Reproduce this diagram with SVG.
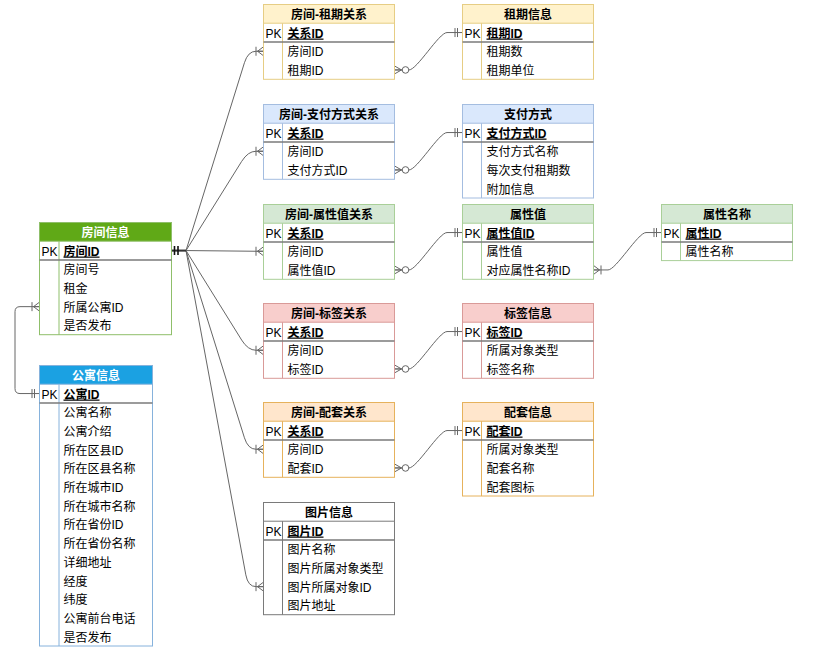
<svg xmlns="http://www.w3.org/2000/svg" width="814" height="651" viewBox="0 0 814 651">
<style>
.t{font-family:"Liberation Sans","Noto Sans CJK SC",sans-serif;font-size:12px;fill:#000;transform:translateY(1px)}
.hd{font-weight:bold;text-anchor:middle}
.wt{fill:#fff}
.pk{font-weight:bold;text-decoration:underline}
.box{fill:#fff}
.sep{stroke:#7a7a7a;stroke-width:1.5}
.ln{fill:none;stroke:#666;stroke-width:1}
.mk{fill:none;stroke:#666;stroke-width:1}
.gd rect,.gd .div{stroke:#8fbf6a}.gd .head{fill:#60a917}
.bd rect,.bd .div{stroke:#86b2dc}.bd .head{fill:#1ba1e2}
.ye rect,.ye .div{stroke:#e6cd84}.ye .head{fill:#fff2cc}
.bl rect,.bl .div{stroke:#a4bde0}.bl .head{fill:#dae8fc}
.gr rect,.gr .div{stroke:#a9cf98}.gr .head{fill:#d5e8d4}
.rd rect,.rd .div{stroke:#d99a98}.rd .head{fill:#f8cecc}
.or rect,.or .div{stroke:#e6b25c}.or .head{fill:#ffe6cc}
.gy rect,.gy .div{stroke:#7a7a7a}.gy .head{fill:#fff}
</style>
<defs>
<g id="m-om" class="mk"><path d="M-7.5,-4.5V4.5M-6,0L0,-4.5M-6,0L0,4.5M-6,0H0"/></g>
<g id="m-one" class="mk"><path d="M-7.5,-4.5V4.5M-5,-4.5V4.5"/></g>
<g id="m-zm" class="mk"><path d="M0,-4L7,0M0,4L7,0M0,0H7"/><circle cx="11" cy="0" r="3.3" fill="#fff"/></g>
<g id="m-omr" class="mk"><path d="M7.5,-4.5V4.5M6,0L0,-4.5M6,0L0,4.5M6,0H0"/></g>
</defs>

<g id="connectors">
<path class="ln" d="M171.5,250.55H186L244.44,62.71Q248,51.25 256,51.25H263.5"/>
<path class="ln" d="M171.5,250.55H186L241.64,161.43Q248,151.25 256,151.25H263.5"/>
<path class="ln" d="M171.5,250.55H186L256,251.25H263.5"/>
<path class="ln" d="M171.5,250.55H186L241.66,340.06Q248,350.25 256,350.25H263.5"/>
<path class="ln" d="M171.5,250.55H186L244.43,437.79Q248,449.25 256,449.25H263.5"/>
<path class="ln" d="M171.5,250.55H186L245.82,574.85Q248,586.65 256,586.65H263.5"/>
<path d="M171.5,250.55H186" stroke="#333" stroke-width="2" fill="none"/>
<path d="M174.5,246V255M178,246V255" stroke="#111" stroke-width="1.6" fill="none"/>
<use href="#m-om" x="263.5" y="51.25"/>
<use href="#m-om" x="263.5" y="151.25"/>
<use href="#m-om" x="263.5" y="251.25"/>
<use href="#m-om" x="263.5" y="350.25"/>
<use href="#m-om" x="263.5" y="449.25"/>
<use href="#m-om" x="263.5" y="586.65"/>

<path class="ln" d="M39.5,306.65H20Q15,306.65 15,311.65V388.55Q15,393.55 20,393.55H39.5"/>
<use href="#m-om" x="39.5" y="306.65"/>
<use href="#m-one" x="39.5" y="393.55"/>

<path class="ln" d="M394.5,69.95H409C417,69.95 439,32.55 447,32.55H462.5"/>
<path class="ln" d="M394.5,169.95H409C417,169.95 439,132.55 447,132.55H462.5"/>
<path class="ln" d="M394.5,269.95H409C417,269.95 439,232.55 447,232.55H462.5"/>
<path class="ln" d="M394.5,368.95H409C417,368.95 439,331.55 447,331.55H462.5"/>
<path class="ln" d="M394.5,467.95H409C417,467.95 439,430.55 447,430.55H462.5"/>
<path class="ln" d="M593.5,269.95H608C616,269.95 638,232.55 646,232.55H661.5"/>
<use href="#m-zm" x="394.5" y="69.95"/>
<use href="#m-zm" x="394.5" y="169.95"/>
<use href="#m-zm" x="394.5" y="269.95"/>
<use href="#m-zm" x="394.5" y="368.95"/>
<use href="#m-zm" x="394.5" y="467.95"/>
<use href="#m-omr" x="593.5" y="269.95"/>
<use href="#m-one" x="462.5" y="32.55"/>
<use href="#m-one" x="462.5" y="132.55"/>
<use href="#m-one" x="462.5" y="232.55"/>
<use href="#m-one" x="462.5" y="331.55"/>
<use href="#m-one" x="462.5" y="430.55"/>
<use href="#m-one" x="661.5" y="232.55"/>
</g>

<g id="fangjian" class="gd" transform="translate(39.5,222.5)">
<rect class="box" width="132" height="112.2"/><rect class="head" width="132" height="18.7"/>
<line class="div" x1="19.5" y1="18.7" x2="19.5" y2="112.2"/><line class="sep" x1="0" y1="37.4" x2="132" y2="37.4"/>
<text class="t hd wt" x="66" y="13.35">房间信息</text>
<text class="t" x="2" y="32.05">PK</text><text class="t pk" x="24" y="32.05">房间ID</text>
<text class="t" x="24" y="50.75">房间号</text>
<text class="t" x="24" y="69.45">租金</text>
<text class="t" x="24" y="88.15">所属公寓ID</text>
<text class="t" x="24" y="106.85">是否发布</text>
</g>

<g id="gongyu" class="bd" transform="translate(39.5,365.5)">
<rect class="box" width="113" height="280.5"/><rect class="head" width="113" height="18.7"/>
<line class="div" x1="19.5" y1="18.7" x2="19.5" y2="280.5"/><line class="sep" x1="0" y1="37.4" x2="113" y2="37.4"/>
<text class="t hd wt" x="56.5" y="13.35">公寓信息</text>
<text class="t" x="2" y="32.05">PK</text><text class="t pk" x="24" y="32.05">公寓ID</text>
<text class="t" x="24" y="50.75">公寓名称</text>
<text class="t" x="24" y="69.45">公寓介绍</text>
<text class="t" x="24" y="88.15">所在区县ID</text>
<text class="t" x="24" y="106.85">所在区县名称</text>
<text class="t" x="24" y="125.55">所在城市ID</text>
<text class="t" x="24" y="144.25">所在城市名称</text>
<text class="t" x="24" y="162.95">所在省份ID</text>
<text class="t" x="24" y="181.65">所在省份名称</text>
<text class="t" x="24" y="200.35">详细地址</text>
<text class="t" x="24" y="219.05">经度</text>
<text class="t" x="24" y="237.75">纬度</text>
<text class="t" x="24" y="256.45">公寓前台电话</text>
<text class="t" x="24" y="275.15">是否发布</text>
</g>

<g id="fj-zuqi" class="ye" transform="translate(263.5,4.5)">
<rect class="box" width="131" height="74.8"/><rect class="head" width="131" height="18.7"/>
<line class="div" x1="19" y1="18.7" x2="19" y2="74.8"/><line class="sep" x1="0" y1="37.4" x2="131" y2="37.4"/>
<text class="t hd" x="65.5" y="13.35">房间-租期关系</text>
<text class="t" x="2" y="32.05">PK</text><text class="t pk" x="24" y="32.05">关系ID</text>
<text class="t" x="24" y="50.75">房间ID</text>
<text class="t" x="24" y="69.45">租期ID</text>
</g>

<g id="zuqi" class="ye" transform="translate(462.5,4.5)">
<rect class="box" width="131" height="74.8"/><rect class="head" width="131" height="18.7"/>
<line class="div" x1="19" y1="18.7" x2="19" y2="74.8"/><line class="sep" x1="0" y1="37.4" x2="131" y2="37.4"/>
<text class="t hd" x="65.5" y="13.35">租期信息</text>
<text class="t" x="2" y="32.05">PK</text><text class="t pk" x="24" y="32.05">租期ID</text>
<text class="t" x="24" y="50.75">租期数</text>
<text class="t" x="24" y="69.45">租期单位</text>
</g>

<g id="fj-zhifu" class="bl" transform="translate(263.5,104.5)">
<rect class="box" width="131" height="74.8"/><rect class="head" width="131" height="18.7"/>
<line class="div" x1="19" y1="18.7" x2="19" y2="74.8"/><line class="sep" x1="0" y1="37.4" x2="131" y2="37.4"/>
<text class="t hd" x="65.5" y="13.35">房间-支付方式关系</text>
<text class="t" x="2" y="32.05">PK</text><text class="t pk" x="24" y="32.05">关系ID</text>
<text class="t" x="24" y="50.75">房间ID</text>
<text class="t" x="24" y="69.45">支付方式ID</text>
</g>

<g id="zhifu" class="bl" transform="translate(462.5,104.5)">
<rect class="box" width="131" height="93.5"/><rect class="head" width="131" height="18.7"/>
<line class="div" x1="19" y1="18.7" x2="19" y2="93.5"/><line class="sep" x1="0" y1="37.4" x2="131" y2="37.4"/>
<text class="t hd" x="65.5" y="13.35">支付方式</text>
<text class="t" x="2" y="32.05">PK</text><text class="t pk" x="24" y="32.05">支付方式ID</text>
<text class="t" x="24" y="50.75">支付方式名称</text>
<text class="t" x="24" y="69.45">每次支付租期数</text>
<text class="t" x="24" y="88.15">附加信息</text>
</g>

<g id="fj-shuxing" class="gr" transform="translate(263.5,204.5)">
<rect class="box" width="131" height="74.8"/><rect class="head" width="131" height="18.7"/>
<line class="div" x1="19" y1="18.7" x2="19" y2="74.8"/><line class="sep" x1="0" y1="37.4" x2="131" y2="37.4"/>
<text class="t hd" x="65.5" y="13.35">房间-属性值关系</text>
<text class="t" x="2" y="32.05">PK</text><text class="t pk" x="24" y="32.05">关系ID</text>
<text class="t" x="24" y="50.75">房间ID</text>
<text class="t" x="24" y="69.45">属性值ID</text>
</g>

<g id="shuxingzhi" class="gr" transform="translate(462.5,204.5)">
<rect class="box" width="131" height="74.8"/><rect class="head" width="131" height="18.7"/>
<line class="div" x1="19" y1="18.7" x2="19" y2="74.8"/><line class="sep" x1="0" y1="37.4" x2="131" y2="37.4"/>
<text class="t hd" x="65.5" y="13.35">属性值</text>
<text class="t" x="2" y="32.05">PK</text><text class="t pk" x="24" y="32.05">属性值ID</text>
<text class="t" x="24" y="50.75">属性值</text>
<text class="t" x="24" y="69.45">对应属性名称ID</text>
</g>

<g id="shuxingming" class="gr" transform="translate(661.5,204.5)">
<rect class="box" width="131" height="56.1"/><rect class="head" width="131" height="18.7"/>
<line class="div" x1="19" y1="18.7" x2="19" y2="56.1"/><line class="sep" x1="0" y1="37.4" x2="131" y2="37.4"/>
<text class="t hd" x="65.5" y="13.35">属性名称</text>
<text class="t" x="2" y="32.05">PK</text><text class="t pk" x="24" y="32.05">属性ID</text>
<text class="t" x="24" y="50.75">属性名称</text>
</g>

<g id="fj-biaoqian" class="rd" transform="translate(263.5,303.5)">
<rect class="box" width="131" height="74.8"/><rect class="head" width="131" height="18.7"/>
<line class="div" x1="19" y1="18.7" x2="19" y2="74.8"/><line class="sep" x1="0" y1="37.4" x2="131" y2="37.4"/>
<text class="t hd" x="65.5" y="13.35">房间-标签关系</text>
<text class="t" x="2" y="32.05">PK</text><text class="t pk" x="24" y="32.05">关系ID</text>
<text class="t" x="24" y="50.75">房间ID</text>
<text class="t" x="24" y="69.45">标签ID</text>
</g>

<g id="biaoqian" class="rd" transform="translate(462.5,303.5)">
<rect class="box" width="131" height="74.8"/><rect class="head" width="131" height="18.7"/>
<line class="div" x1="19" y1="18.7" x2="19" y2="74.8"/><line class="sep" x1="0" y1="37.4" x2="131" y2="37.4"/>
<text class="t hd" x="65.5" y="13.35">标签信息</text>
<text class="t" x="2" y="32.05">PK</text><text class="t pk" x="24" y="32.05">标签ID</text>
<text class="t" x="24" y="50.75">所属对象类型</text>
<text class="t" x="24" y="69.45">标签名称</text>
</g>

<g id="fj-peitao" class="or" transform="translate(263.5,402.5)">
<rect class="box" width="131" height="74.8"/><rect class="head" width="131" height="18.7"/>
<line class="div" x1="19" y1="18.7" x2="19" y2="74.8"/><line class="sep" x1="0" y1="37.4" x2="131" y2="37.4"/>
<text class="t hd" x="65.5" y="13.35">房间-配套关系</text>
<text class="t" x="2" y="32.05">PK</text><text class="t pk" x="24" y="32.05">关系ID</text>
<text class="t" x="24" y="50.75">房间ID</text>
<text class="t" x="24" y="69.45">配套ID</text>
</g>

<g id="peitao" class="or" transform="translate(462.5,402.5)">
<rect class="box" width="131" height="93.5"/><rect class="head" width="131" height="18.7"/>
<line class="div" x1="19" y1="18.7" x2="19" y2="93.5"/><line class="sep" x1="0" y1="37.4" x2="131" y2="37.4"/>
<text class="t hd" x="65.5" y="13.35">配套信息</text>
<text class="t" x="2" y="32.05">PK</text><text class="t pk" x="24" y="32.05">配套ID</text>
<text class="t" x="24" y="50.75">所属对象类型</text>
<text class="t" x="24" y="69.45">配套名称</text>
<text class="t" x="24" y="88.15">配套图标</text>
</g>

<g id="tupian" class="gy" transform="translate(263.5,502.5)">
<rect class="box" width="131" height="112.2"/><rect class="head" width="131" height="18.7"/>
<line class="div" x1="19" y1="18.7" x2="19" y2="112.2"/><line class="sep" x1="0" y1="37.4" x2="131" y2="37.4"/>
<text class="t hd" x="65.5" y="13.35">图片信息</text>
<text class="t" x="2" y="32.05">PK</text><text class="t pk" x="24" y="32.05">图片ID</text>
<text class="t" x="24" y="50.75">图片名称</text>
<text class="t" x="24" y="69.45">图片所属对象类型</text>
<text class="t" x="24" y="88.15">图片所属对象ID</text>
<text class="t" x="24" y="106.85">图片地址</text>
</g>
</svg>
